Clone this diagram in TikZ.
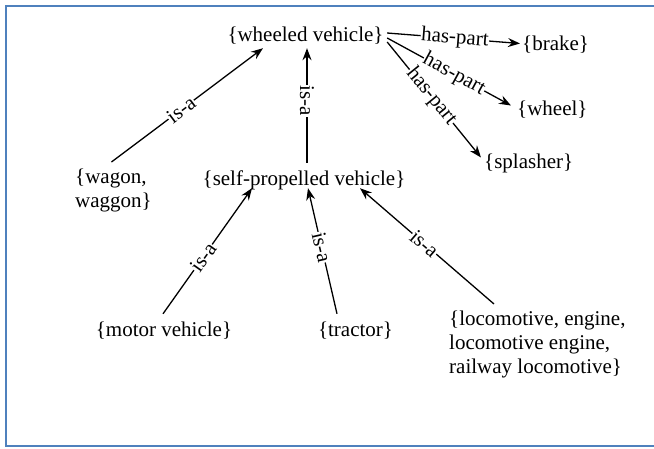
\documentclass[tikz,border=0pt]{standalone}
\usepackage{fontspec}
\setmainfont{Liberation Serif}
\usetikzlibrary{arrows.meta,calc}
\definecolor{frameblue}{RGB}{79,129,189}
\begin{document}
\begin{tikzpicture}[x=1pt,y=-1pt,
  concept/.style={font=\fontsize{21}{24}\selectfont, inner sep=1pt, text height=15pt, text depth=5pt},
  multi/.style={font=\fontsize{21}{24}\selectfont, inner sep=1pt, align=left},
  rel/.style={draw=black, line width=1.3pt, -{Stealth[length=12pt,width=9pt,inset=4pt]}},
  lbl/.style={font=\fontsize{21}{21}\selectfont, fill=white, inner sep=0.5pt},
]
\useasboundingbox (0,0) rectangle (654,448);
\draw[line width=2pt, draw=frameblue] (656,6) -- (6,6) -- (6,446) -- (656,446);

\node[concept, anchor=base] (wv) at (305.5,41) {\{wheeled vehicle\}};
\node[concept, anchor=base west] (brake) at (521,50) {\{brake\}};
\node[concept, anchor=base west] (wheel) at (516,115) {\{wheel\}};
\node[concept, anchor=base west] (spl) at (483,168) {\{splasher\}};
\node[concept, anchor=base] (spv) at (304,185) {\{self-propelled vehicle\}};
\node[multi, anchor=north west] (wagon) at (74,168) {\{wagon,\\waggon\}};
\node[concept, anchor=base] (motor) at (164,336) {\{motor vehicle\}};
\node[concept, anchor=base] (tractor) at (355.5,336) {\{tractor\}};
\node[multi, anchor=north west] (loco) at (448,310) {\{locomotive, engine,\\locomotive engine,\\railway locomotive\}};

\draw[rel] ($(wagon.north)+(-2,-6)$) -- node[lbl, sloped, pos=0.46] {is-a} ($(wv.south)+(-42.5,1)$);
\draw[rel] ($(spv.north)+(3,-6)$) -- node[lbl, rotate=-90, pos=0.54] {is-a} ($(wv.south)+(1.5,1)$);
\draw[rel] ($(motor.north)+(-1,-6)$) -- node[lbl, sloped, pos=0.45] {is-a} ($(spv.south)+(-52,-3)$);
\draw[rel] ($(tractor.north)+(-18.5,-6)$) -- node[lbl, sloped, pos=0.53] {is-a} ($(spv.south)+(4,-3)$);
\draw[rel] ($(loco.north west)+(46,-6)$) -- node[lbl, sloped, pos=0.52] {is-a} ($(spv.south)+(56,-3)$);

\draw[rel] ($(wv.east)+(2.5,-3)$) -- node[lbl, sloped, pos=0.51] {has-part} ($(brake.west)+(-1,-1.5)$);
\draw[rel] ($(wv.east)+(2.5,2)$) -- node[lbl, sloped, pos=0.54] {has-part} ($(wheel.west)+(-5,-4.5)$);
\draw[rel] ($(wv.east)+(2.5,6)$) -- node[lbl, sloped, pos=0.47] {has-part} ($(spl.west)+(-2,-5.5)$);
\end{tikzpicture}
\end{document}
